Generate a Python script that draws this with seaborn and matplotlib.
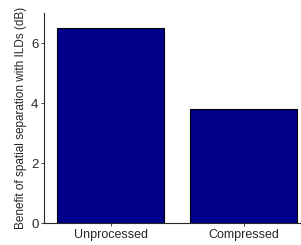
import matplotlib
matplotlib.use("Agg")
import matplotlib.pyplot as plt
import seaborn as sns
import pandas as pd

# data
conditions = ["Unprocessed", "Compressed"]
benefit_db = [6.5, 3.8]

sns.set_style("ticks")
plt.rcParams['font.family'] = ['Liberation Sans', 'DejaVu Sans']

df = pd.DataFrame({"condition": conditions, "benefit": benefit_db})

fig = plt.figure(figsize=(3.01, 2.45), dpi=100)
ax = fig.add_axes([44/301, 22/245, 257/301, 210/245])
sns.barplot(data=df, x="condition", y="benefit", color="#00008B", saturation=1,
            edgecolor="black", linewidth=0.8, width=0.8, ax=ax)

ax.set_xlim(-0.5, 1.43)
ax.set_ylim(0, 7)
ax.set_yticks([0, 2, 4, 6])
ax.set_xlabel("")
ax.set_ylabel("Benefit of spatial separation with ILDs (dB)", fontsize=8.5, labelpad=3)
ax.tick_params(axis="both", labelsize=9, length=2, width=0.6, pad=2)
ax.tick_params(axis="y", labelsize=9.5)
sns.despine(ax=ax)
for s in ["left", "bottom"]:
    ax.spines[s].set_linewidth(0.8)

fig.savefig("out.png", dpi=100)
